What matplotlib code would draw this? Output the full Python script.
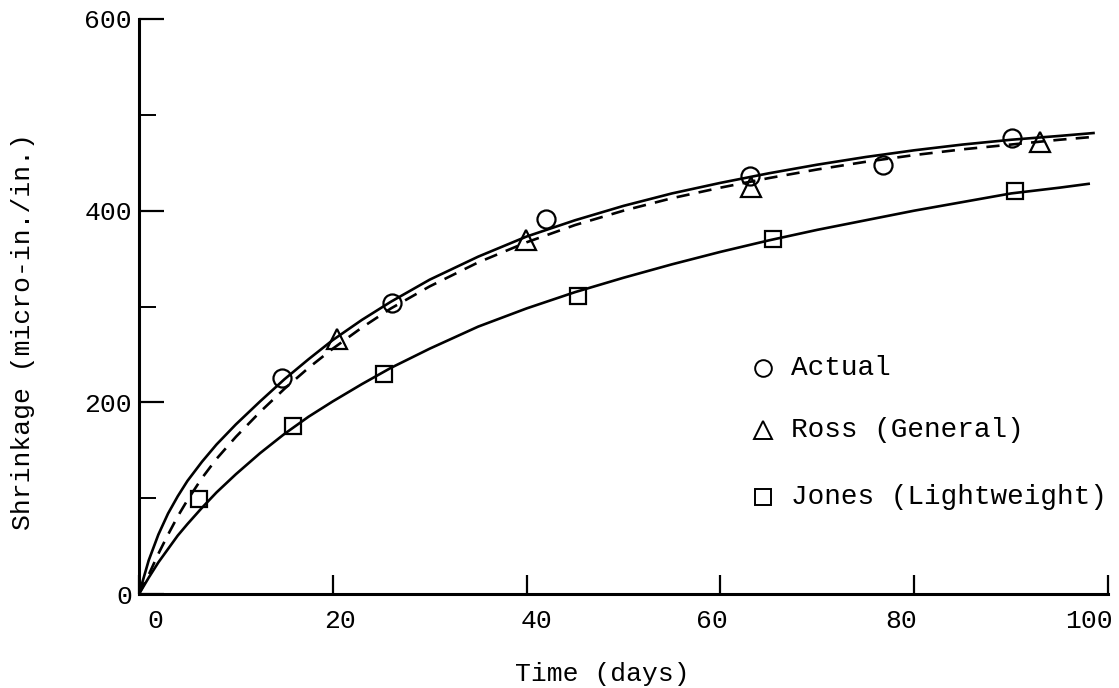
import matplotlib
matplotlib.use("Agg")
import matplotlib.pyplot as plt
import matplotlib.transforms as mtransforms

plt.rcParams["font.family"] = ["Liberation Mono", "DejaVu Sans Mono"]

# ── Data ──────────────────────────────────────────────────────────
# measured points
actual_t = [14.8, 26.1, 42.0, 63.1, 76.8, 90.1]
actual_y = [225, 304, 391, 436, 448, 476]

ross_t = [20.4, 39.9, 63.2, 93.0]
ross_y = [266, 369, 425, 472]

jones_t = [6.2, 15.9, 25.3, 45.3, 65.4, 90.4]
jones_y = [99, 175, 230, 311, 370, 421]

# fitted curves
curve_t = [0, 1, 2, 3, 4, 5, 6.5, 8, 10, 12.5, 15, 17.5, 20, 23, 26, 30,
           35, 40, 45, 50, 55, 60, 65, 70, 75, 80, 85, 90, 95, 98.5]
actual_curve_y = [0, 35, 62, 84, 102, 118, 138, 156, 177, 201, 224, 245,
                  265, 286, 305, 328, 352, 373, 390, 405, 418, 429, 439,
                  448, 456, 463, 469, 474, 478, 481]
ross_curve_y = [0, 20, 42, 62, 81, 98, 121, 141, 164, 190, 214, 236, 256,
                278, 298, 321, 346, 367, 385, 400, 413, 424, 434, 443,
                451, 458, 464, 469, 474, 477]
jones_curve_y = [0, 17, 33, 47, 61, 73, 90, 106, 125, 147, 167, 185, 201,
                 219, 236, 256, 279, 298, 315, 330, 344, 357, 369, 380,
                 390, 400, 409, 418, 424, 428]

labels = ["Actual", "Ross (General)", "Jones (Lightweight)"]
markers = ["o", "^", "s"]

# typed tick labels sit a little off their ticks (points)
xtick_shift = [11.5, 5, 7, -6.5, -9.5, -14]

# ── Figure ────────────────────────────────────────────────────────
fig = plt.figure(figsize=(11.19, 6.88), dpi=100)
ax = fig.add_axes([0.1242, 0.1366, 0.8660, 0.8358])

ax.plot(curve_t, actual_curve_y, color="black", lw=1.9)
ax.plot(curve_t, ross_curve_y, color="black", lw=1.9,
        linestyle=(0, (5, 3.5)))
ax.plot(curve_t[:-1] + [98], jones_curve_y, color="black", lw=1.9)

ax.plot(actual_t, actual_y, "o", ms=13, mfc="none", mec="black", mew=1.6)
ax.plot(ross_t, ross_y, "^", ms=14, mfc="none", mec="black", mew=1.6)
ax.plot(jones_t, jones_y, "s", ms=11, mfc="none", mec="black", mew=1.6)

ax.set_xlim(0, 100)
ax.set_ylim(0, 600)
ax.set_xticks([0, 20, 40, 60, 80, 100])
ax.set_yticks([0, 200, 400, 600])
ax.set_yticks([100, 300, 500], minor=True)

for s in ["top", "right"]:
    ax.spines[s].set_visible(False)
for s in ["left", "bottom"]:
    ax.spines[s].set_linewidth(2.2)

ax.tick_params(axis="x", direction="in", length=14, width=1.6,
               labelsize=19, pad=11)
ax.tick_params(axis="y", which="major", direction="in", length=18,
               width=1.6, labelsize=19, pad=5)
ax.tick_params(axis="y", which="minor", direction="in", length=12,
               width=1.4)

for lbl, dx in zip(ax.get_xticklabels(), xtick_shift):
    lbl.set_transform(lbl.get_transform() +
                      mtransforms.ScaledTranslation(dx / 72, 0, fig.dpi_scale_trans))

ax.set_xlabel("Time (days)", fontsize=19)
ax.set_ylabel("Shrinkage (micro-in./in.)", fontsize=19)
ax.xaxis.set_label_coords(0.478, -0.118)
ax.yaxis.set_label_coords(-0.107, 0.456)

# legend typed in the plot area
leg_y = [0.393, 0.285, 0.169]
ms_leg = [12, 13, 11]
for lab, m, yy, ms in zip(labels, markers, leg_y, ms_leg):
    ax.plot([0.644], [yy], m, ms=ms, mfc="none", mec="black", mew=1.4,
            transform=ax.transAxes, clip_on=False)
    ax.text(0.673, yy, lab, fontsize=20, va="center", ha="left",
            transform=ax.transAxes)

fig.savefig("out.png", dpi=100)
